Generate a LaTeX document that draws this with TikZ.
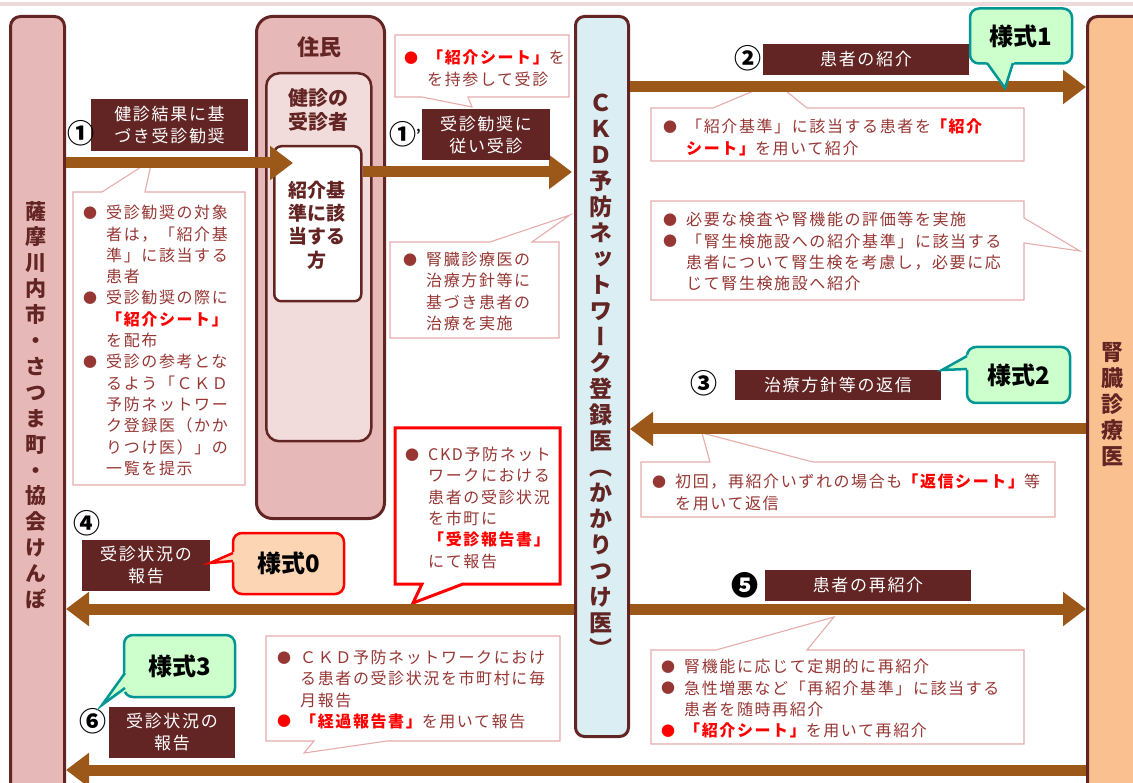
\documentclass[tikz,border=0pt]{standalone}
\usepackage{fontspec}
\setmainfont{Noto Sans CJK JP}
\newfontfamily\jpls[LetterSpace=10]{Noto Sans CJK JP}
\newfontfamily\jpv[RawFeature=+vert]{Noto Sans CJK JP}
\usetikzlibrary{arrows.meta}
\definecolor{arrowc}{RGB}{156,88,24}
\definecolor{darkb}{RGB}{99,37,35}
\definecolor{pinkc}{RGB}{230,184,183}
\definecolor{pinkl}{RGB}{242,220,219}
\definecolor{bluec}{RGB}{218,238,243}
\definecolor{peach}{RGB}{250,192,144}
\definecolor{callb}{RGB}{230,172,172}
\definecolor{callt}{RGB}{150,55,52}
\definecolor{greenf}{RGB}{204,255,204}
\definecolor{tealb}{RGB}{0,150,150}
\definecolor{peachz}{RGB}{252,213,181}
\definecolor{redc}{RGB}{255,0,0}
\definecolor{topline}{RGB}{238,218,218}
\newcommand\bul[1][callt]{\makebox[23pt][l]{\hspace*{0pt}\raisebox{0.6pt}{\textcolor{#1}{\fontsize{14}{14}\selectfont ●}}}}
\newcommand\ind{\hspace*{23pt}}
\newcommand\rb[1]{\textcolor{redc}{\bfseries #1}}
\begin{document}
\begin{tikzpicture}[x=1pt,y=-1pt,
 colbox/.style={draw=darkb,line width=3pt,rounded corners=#1,inner sep=0pt,anchor=north west},
 colbox/.default=10pt,
 vtext/.style={font=\jpv\bfseries\fontsize{21}{25.9}\selectfont,text=darkb,align=center,inner sep=0pt},
 btext/.style={text=darkb,align=center,inner sep=0pt},
 lab/.style={fill=darkb,text=white,font=\jpls\fontsize{17}{22}\selectfont,align=center,inner sep=0pt},
 cot/.style={font=\jpls\fontsize{16}{21.3}\selectfont,text=callt,align=left,anchor=north west,inner sep=0pt},
 call/.style={draw=callb,line width=1.1pt,fill=white,line join=miter},
 num/.style={font=\bfseries\fontsize{27}{27}\selectfont,text=black,inner sep=0pt},
 yoshiki/.style={rounded corners=9pt,line width=2.5pt,font=\bfseries\fontsize{24}{24}\selectfont,text=black,inner sep=0pt},
 bigarrow/.style={draw=arrowc,line width=11pt,-{Triangle[width=33pt,length=23pt]}}
]
\useasboundingbox (0,0) rectangle (1133,783);
\clip (0,0) rectangle (1133,783);
\fill[topline] (0,2) rectangle (1133,6);

% columns and boxes
\node[colbox=10pt,fill=pinkc,minimum width=54,minimum height=800] (left) at (9,15) {};
\node[colbox=16pt,fill=pinkc,minimum width=128,minimum height=502] (jumin) at (255,15) {};
\node[colbox=13pt,fill=pinkl,line width=2.5pt,minimum width=105,minimum height=368] (jushin) at (265,72) {};
\node[colbox=7pt,fill=white,line width=2.5pt,minimum width=87,minimum height=155] (gaito) at (273,145) {};
\node[colbox=9pt,fill=bluec,minimum width=53,minimum height=720] (ckd) at (574,15) {};
\node[colbox=10pt,fill=peach,minimum width=60,minimum height=800] (renal) at (1086,15) {};

\node[vtext] (lefttxt) at (36,405) {薩\\摩\\川\\内\\市\\・\\さ\\つ\\ま\\町\\・\\協\\会\\け\\ん\\ぽ};
\node[vtext,font=\jpv\bfseries\fontsize{23}{26}\selectfont] (ckdtxt) at (601,376) {Ｃ\\Ｋ\\Ｄ\\予\\防\\ネ\\ッ\\ト\\ワ\\ー\\ク\\登\\録\\医\\（\\か\\か\\り\\つ\\け\\医\\）};
\node[vtext,font=\jpv\bfseries\fontsize{22}{26}\selectfont] (renaltxt) at (1112,405) {腎\\臓\\診\\療\\医};
\node[btext,font=\bfseries\fontsize{22}{22}\selectfont] (jumintxt) at (319,47) {住民};
\node[btext,font=\bfseries\fontsize{20}{24}\selectfont] (jushintxt) at (318,110) {健診の\\受診者};
\node[btext,font=\bfseries\fontsize{19}{23.3}\selectfont] (gaitotxt) at (317,225) {紹介基\\準に該\\当する\\方};

% callouts
\draw[call] (73,192) -- (102,192) -- (152,160) -- (145,192) -- (245,192) -- (245,485) -- (73,485) -- cycle;
\node[cot] (c1) at (83,205) {\bul 受診勧奨の対象\\
\ind 者は，「紹介基\\
\ind 準」に該当する\\
\ind 患者\\
\bul 受診勧奨の際に\\
\ind\rb{「紹介シート」}\\
\ind を配布\\
\bul 受診の参考とな\\
\ind るよう「ＣＫＤ\\
\ind 予防ネットワー\\
\ind ク登録医（かか\\
\ind りつけ医）」の\\
\ind 一覧を提示};

\draw[call] (395,35) -- (569,35) -- (569,97) -- (468,97) -- (472,107) -- (422,97) -- (395,97) -- cycle;
\node[cot] (c1p) at (404,50) {\bul[redc]\rb{「紹介シート」}を\\
\ind を持参して受診};

\draw[call] (390,242) -- (490,242) -- (570,215) -- (532,242) -- (559,242) -- (559,338) -- (390,338) -- cycle;
\node[cot] (c1b) at (403,252) {\bul 腎臓診療医の\\
\ind 治療方針等に\\
\ind 基づき患者の\\
\ind 治療を実施};

\draw[call] (651,108) -- (713,108) -- (775,82) -- (807,108) -- (1024,108) -- (1024,161) -- (651,161) -- cycle;
\node[cot] (c2) at (663,119) {\bul 「紹介基準」に該当する患者を\rb{「紹介}\\
\ind\rb{シート」}を用いて紹介};

\draw[call] (651,201) -- (1024,201) -- (1024,218) -- (1080,251) -- (1024,243) -- (1024,300) -- (651,300) -- cycle;
\node[cot] (c2b) at (663,212) {\bul 必要な検査や腎機能の評価等を実施\\
\bul 「腎生検施設への紹介基準」に該当する\\
\ind 患者について腎生検を考慮し，必要に応\\
\ind じて腎生検施設へ紹介};

\draw[call] (641,462) -- (710,462) -- (702,433) -- (813,462) -- (1055,462) -- (1055,517) -- (641,517) -- cycle;
\node[cot] (c3) at (652,474) {\bul 初回，再紹介いずれの場合も\rb{「返信シート」}等\\
\ind を用いて返信};

\draw[call,draw=redc,line width=3pt] (395,428) -- (560,428) -- (560,584) -- (463,584) -- (413,603) -- (422,584) -- (395,584) -- cycle;
\node[cot] (cr) at (405,447) {\bul CKD予防ネット\\
\ind ワークにおける\\
\ind 患者の受診状況\\
\ind を市町に\\
\ind\rb{「受診報告書」}\\
\ind にて報告};

\draw[call] (651,650) -- (716,650) -- (834,617) -- (807,650) -- (1024,650) -- (1024,744) -- (651,744) -- cycle;
\node[cot] (c5) at (661,659) {\bul 腎機能に応じて定期的に再紹介\\
\bul 急性増悪など「再紹介基準」に該当する\\
\ind 患者を随時再紹介\\
\bul[redc]\rb{「紹介シート」}を用いて再紹介};

\draw[call] (266,636) -- (560,636) -- (560,741) -- (387,741) -- (304,753) -- (314,741) -- (266,741) -- cycle;
\node[cot] (c6) at (277,650) {\bul ＣＫＤ予防ネットワークにおけ\\
\ind る患者の受診状況を市町村に毎\\
\ind 月報告\\
\bul[redc]\rb{「経過報告書」}を用いて報告};

% arrows
\coordinate (a1t) at (293,163);
\coordinate (a1pt) at (572,172);
\draw[bigarrow] (left.east |- a1t) -- (a1t);
\draw[bigarrow] (gaito.east |- a1pt) -- (a1pt);
\draw[bigarrow] (ckd.east |- 0,87) -- (renal.west |- 0,87);
\draw[bigarrow] (renal.west |- 0,429) -- (ckd.east |- 0,429);
\draw[bigarrow] (ckd.west |- 0,609) -- (left.east |- 0,609);
\draw[bigarrow] (ckd.east |- 0,609) -- (renal.west |- 0,609);
\draw[bigarrow] (renal.west |- 0,770) -- (left.east |- 0,770);

% labels
\node[lab,minimum width=157,minimum height=52] (l1) at (169.5,125) {健診結果に基\\づき受診勧奨};
\node[lab,minimum width=128,minimum height=51] (l1p) at (486,135) {受診勧奨に\\従い受診};
\node[lab,minimum width=206,minimum height=31] (l2) at (866,59.5) {患者の紹介};
\node[lab,minimum width=206,minimum height=30] (l3) at (838,385) {治療方針等の返信};
\node[lab,minimum width=128,minimum height=51] (l4) at (146,565) {受診状況の\\報告};
\node[lab,minimum width=206,minimum height=31] (l5) at (868,585) {患者の再紹介};
\node[lab,minimum width=126,minimum height=51] (l6) at (172,732) {受診状況の\\報告};

% numbers
\node[num] (n1) at (81,133) {①};
\node[num] (n1p) at (405,134) {①\hspace{0pt}\raisebox{5pt}{\fontsize{13}{13}\selectfont '}};
\node[num] (n2) at (748,58) {②};
\node[num] (n3) at (704,383) {③};
\node[num] (n4) at (87,523) {④};
\node[num] (n5) at (745,585) {❺};
\node[num] (n6) at (93,721) {⑥};

% yoshiki bubbles
\node[yoshiki,fill=greenf,draw=tealb,minimum width=102,minimum height=55] (y1) at (1021,36) {様式1};
\fill[greenf] (985,60) -- (1005,88) -- (1015,60) -- cycle;
\draw[tealb,line width=2.5pt] (987,63) -- (1005,88) -- (1013,63);

\node[yoshiki,fill=greenf,draw=tealb,minimum width=103,minimum height=56] (y2) at (1018.5,375) {様式2};
\fill[greenf] (970,354) -- (942,370) -- (970,370) -- cycle;
\draw[tealb,line width=2.5pt] (967,356) -- (942,370) -- (967,369);

\node[yoshiki,fill=peachz,draw=redc,minimum width=111,minimum height=61] (y0) at (288.5,563.5) {様式0};
\fill[peachz] (236,551) -- (210,563) -- (236,562) -- cycle;
\draw[redc,line width=2.5pt] (233,553) -- (210,563) -- (233,561);

\node[yoshiki,fill=greenf,draw=tealb,minimum width=111,minimum height=62] (y3) at (179.5,666) {様式3};
\fill[greenf] (128,669) -- (102,705) -- (128,690) -- cycle;
\draw[tealb,line width=2.5pt] (125,673) -- (102,705) -- (125,688);
\end{tikzpicture}
\end{document}
